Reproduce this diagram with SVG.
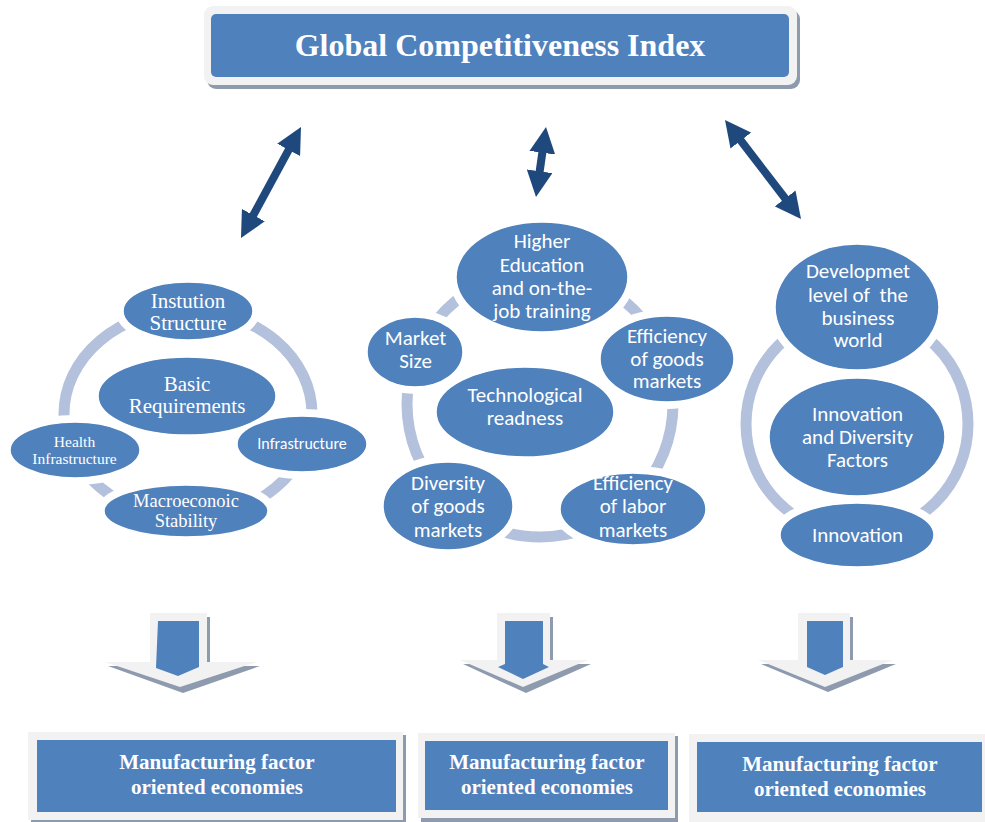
<svg xmlns="http://www.w3.org/2000/svg" width="985" height="822" viewBox="0 0 985 822">
<defs>
<style>
.node{fill:#4F81BD;stroke:#fff;stroke-width:1.5}
.halo{fill:#fff;stroke:#fff;stroke-width:14}
.ring{fill:none;stroke:#B3C1DC;stroke-width:11}
.ts{font-family:"Liberation Serif","Times New Roman",serif;fill:#fff;text-anchor:middle}
.tn{font-family:Carlito,Lato,"Liberation Sans",sans-serif;fill:#fff;text-anchor:middle}
.tb{font-family:"Liberation Serif","Times New Roman",serif;font-weight:bold;fill:#fff;text-anchor:middle}
.dbl{stroke:#1F497D;stroke-width:8;fill:none;marker-start:url(#ah);marker-end:url(#ah)}
.frame{fill:#F2F2F2}
.shadow{fill:#8E9BAE}
.blue{fill:#4F81BD}
</style>
<marker id="ah" viewBox="0 0 26 26" markerWidth="26" markerHeight="26" refX="14" refY="13" markerUnits="userSpaceOnUse" orient="auto-start-reverse">
<path d="M0,0 L26,13 L0,26 z" fill="#1F497D"/>
</marker>
</defs>
<rect width="985" height="822" fill="#fff"/>

<g id="title">
<rect class="shadow" x="207" y="10" width="593" height="79" rx="9"/>
<rect class="frame" x="204" y="6" width="593" height="79" rx="9"/>
<rect class="blue" x="211" y="14" width="578" height="63" rx="5"/>
<text class="tb" x="500" y="56" font-size="32">Global Competitiveness Index</text>
</g>

<g id="connectors">
<line class="dbl" x1="246.7" y1="227.45" x2="295.3" y2="137.55"/>
<line class="dbl" x1="537.7" y1="185.1" x2="544.3" y2="138.9"/>
<line class="dbl" x1="793.7" y1="209.5" x2="732.3" y2="129.5"/>
</g>

<g id="basic-requirements">
<ellipse class="ring" cx="188" cy="414" rx="124" ry="104"/>
<ellipse class="halo" cx="188" cy="311" rx="65" ry="29"/>
<ellipse class="halo" cx="75" cy="450" rx="65" ry="28"/>
<ellipse class="halo" cx="302" cy="444" rx="65" ry="28"/>
<ellipse class="halo" cx="186" cy="511" rx="82" ry="26"/>
<g id="n-instution"><ellipse class="node" cx="188" cy="311" rx="65" ry="29"/>
<text class="ts" font-size="21"><tspan x="188" y="308">Instution</tspan><tspan x="188" y="330">Structure</tspan></text></g>
<g id="n-basic"><ellipse class="node" cx="187" cy="396" rx="89" ry="39"/>
<text class="ts" font-size="21"><tspan x="187" y="391">Basic</tspan><tspan x="187" y="413">Requirements</tspan></text></g>
<g id="n-health"><ellipse class="node" cx="75" cy="450" rx="65" ry="28"/>
<text class="ts" font-size="15.5"><tspan x="74.5" y="447">Health</tspan><tspan x="74.5" y="464">Infrastructure</tspan></text></g>
<g id="n-infra"><ellipse class="node" cx="302" cy="444" rx="65" ry="28"/>
<text class="tn" x="302" y="449" font-size="16">Infrastructure</text></g>
<g id="n-macro"><ellipse class="node" cx="186" cy="511" rx="82" ry="26"/>
<text class="ts" font-size="18.5"><tspan x="186" y="507">Macroeconoic</tspan><tspan x="186" y="527">Stability</tspan></text></g>
</g>

<g id="efficiency">
<circle class="ring" cx="540" cy="404" r="133"/>
<ellipse class="halo" cx="542" cy="277" rx="86" ry="55"/>
<ellipse class="halo" cx="415" cy="352" rx="48" ry="35"/>
<ellipse class="halo" cx="667" cy="359" rx="67" ry="43"/>
<ellipse class="halo" cx="448" cy="506" rx="65" ry="44"/>
<ellipse class="halo" cx="633" cy="509" rx="73" ry="36"/>
<g id="n-higher"><ellipse class="node" cx="542" cy="277" rx="86" ry="55"/>
<text class="tn" font-size="21"><tspan x="542" y="248">Higher</tspan><tspan x="542" y="272">Education</tspan><tspan x="542" y="295">and on-the-</tspan><tspan x="542" y="318">job training</tspan></text></g>
<g id="n-market"><ellipse class="node" cx="415" cy="352" rx="48" ry="35"/>
<text class="tn" font-size="21"><tspan x="415.5" y="345">Market</tspan><tspan x="415.5" y="368">Size</tspan></text></g>
<g id="n-effgoods"><ellipse class="node" cx="667" cy="359" rx="67" ry="43"/>
<text class="tn" font-size="21"><tspan x="667" y="343">Efficiency</tspan><tspan x="667" y="366">of goods</tspan><tspan x="667" y="388">markets</tspan></text></g>
<g id="n-tech"><ellipse class="node" cx="525" cy="412" rx="89" ry="45"/>
<text class="tn" font-size="21"><tspan x="525" y="402">Technological</tspan><tspan x="525" y="425">readness</tspan></text></g>
<g id="n-diversity"><ellipse class="node" cx="448" cy="506" rx="65" ry="44"/>
<text class="tn" font-size="21"><tspan x="448" y="490">Diversity</tspan><tspan x="448" y="513">of goods</tspan><tspan x="448" y="537">markets</tspan></text></g>
<g id="n-efflabor"><ellipse class="node" cx="633" cy="509" rx="73" ry="36"/>
<text class="tn" font-size="21"><tspan x="633" y="490">Efficiency</tspan><tspan x="633" y="513">of labor</tspan><tspan x="633" y="537">markets</tspan></text></g>
</g>

<g id="innovation-group">
<circle class="ring" cx="857" cy="424" r="111"/>
<ellipse class="halo" cx="857" cy="307" rx="82" ry="63"/>
<ellipse class="halo" cx="857" cy="535" rx="77" ry="32"/>
<g id="n-devel"><ellipse class="node" cx="857" cy="307" rx="82" ry="63"/>
<text class="tn" font-size="21" xml:space="preserve"><tspan x="858" y="278">Developmet</tspan><tspan x="858" y="302">level of  the</tspan><tspan x="858" y="325">business</tspan><tspan x="858" y="347">world</tspan></text></g>
<g id="n-innodiv"><ellipse class="node" cx="857" cy="437" rx="88" ry="59"/>
<text class="tn" font-size="21"><tspan x="857.5" y="421">Innovation</tspan><tspan x="857.5" y="444">and Diversity</tspan><tspan x="857.5" y="467">Factors</tspan></text></g>
<g id="n-innov"><ellipse class="node" cx="857" cy="535" rx="77" ry="32"/>
<text class="tn" x="857.5" y="542" font-size="21">Innovation</text></g>
</g>

<g id="down-arrow-1">
<polygon class="shadow" points="153,617 210,617 210,666 260,666 183,693 108,666 153,666"/>
<polygon class="frame" points="150,613 207,613 207,662 257,662 180,687 105,662 150,662"/>
<polygon class="blue" points="158,621 199,621 199,667 178,676 156,668"/>
</g>
<g id="down-arrow-2">
<polygon class="shadow" points="500,617 553,617 553,664 591,664 526,693 463,664 500,664"/>
<polygon class="frame" points="497,613 550,613 550,660 588,660 523,687 460,660 497,660"/>
<polygon class="blue" points="505,621 543,621 543,664 549,667 523,679 498,667 505,664"/>
</g>
<g id="down-arrow-3">
<polygon class="shadow" points="801,617 853,617 853,664 896,664 828,692 761,664 801,664"/>
<polygon class="frame" points="798,613 850,613 850,660 893,660 825,687 758,660 798,660"/>
<polygon class="blue" points="807,621 843,621 843,667 825,675 807,667"/>
</g>

<g id="box-1">
<rect class="shadow" x="31" y="735" width="375" height="88"/>
<rect class="frame" x="28" y="732" width="375" height="88"/>
<rect class="blue" x="37" y="740" width="359" height="72"/>
<text class="tb" font-size="21"><tspan x="217" y="769">Manufacturing factor</tspan><tspan x="217" y="794">oriented economies</tspan></text>
</g>
<g id="box-2">
<rect class="shadow" x="421" y="736" width="257" height="87"/>
<rect class="frame" x="418" y="733" width="257" height="85"/>
<rect class="blue" x="425" y="741" width="243" height="69"/>
<text class="tb" font-size="21"><tspan x="547" y="769">Manufacturing factor</tspan><tspan x="547" y="794">oriented economies</tspan></text>
</g>
<g id="box-3">
<rect class="frame" x="689" y="734" width="296" height="88"/>
<rect class="blue" x="697" y="742" width="285" height="70"/>
<text class="tb" font-size="21"><tspan x="840" y="771">Manufacturing factor</tspan><tspan x="840" y="796">oriented economies</tspan></text>
</g>
</svg>
